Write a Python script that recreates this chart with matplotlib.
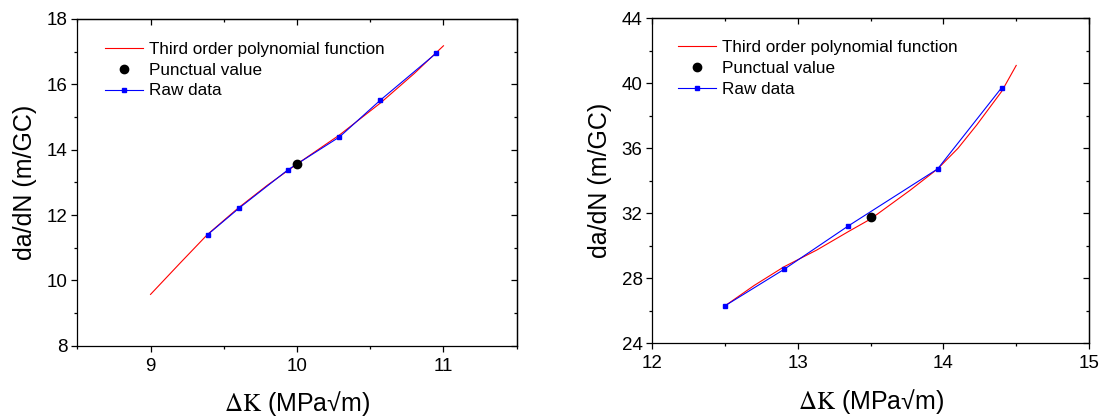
import matplotlib
matplotlib.use("Agg")
import matplotlib.pyplot as plt
from matplotlib.ticker import MultipleLocator

plt.rcParams['font.family'] = ['Liberation Sans', 'DejaVu Sans']
plt.rcParams['mathtext.fontset'] = 'stix'

# Linke Grafik: Rohdaten, Polynom 3. Ordnung und Punktwert
raw_dk_1 = [9.39, 9.607, 9.94, 10.29, 10.57, 10.95]
raw_dadn_1 = [11.40, 12.22, 13.39, 14.39, 15.52, 16.95]
poly_dk_1 = [9.0, 9.2, 9.39, 9.6, 9.8, 10.0, 10.29, 10.57, 10.8, 11.0]
poly_dadn_1 = [9.57, 10.52, 11.41, 12.22, 12.92, 13.56, 14.45, 15.43, 16.33, 17.18]
point_dk_1 = [10.0]
point_dadn_1 = [13.56]

# Rechte Grafik
raw_dk_2 = [12.5, 12.905, 13.346, 13.96, 14.40]
raw_dadn_2 = [26.31, 28.55, 31.22, 34.73, 39.73]
poly_dk_2 = [12.5, 12.7, 12.905, 13.13, 13.346, 13.5, 13.77, 13.96, 14.1, 14.23, 14.4, 14.5]
poly_dadn_2 = [26.31, 27.56, 28.71, 29.74, 30.87, 31.65, 33.41, 34.73, 36.0, 37.45, 39.5, 41.1]
point_dk_2 = [13.5]
point_dadn_2 = [31.77]

labels = ['Third order polynomial function', 'Punctual value', 'Raw data']

W, H = 1103, 419
fig = plt.figure(figsize=(W / 100, H / 100), dpi=100)


def add_panel(rect, poly_x, poly_y, pt_x, pt_y, raw_x, raw_y,
              xlim, ylim, xmaj, xmin, ymaj, ymin, leg_pos):
    ax = fig.add_axes(rect)
    ax.plot(poly_x, poly_y, color='red', lw=0.8, label=labels[0], zorder=2)
    ax.plot(pt_x, pt_y, 'o', color='black', ms=6, label=labels[1], zorder=4)
    ax.plot(raw_x, raw_y, '-s', color='blue', lw=0.8, ms=3.5, label=labels[2], zorder=3)
    ax.set_xlim(*xlim)
    ax.set_ylim(*ylim)
    ax.xaxis.set_major_locator(MultipleLocator(xmaj))
    ax.xaxis.set_minor_locator(MultipleLocator(xmin))
    ax.yaxis.set_major_locator(MultipleLocator(ymaj))
    ax.yaxis.set_minor_locator(MultipleLocator(ymin))
    ax.tick_params(which='both', direction='out', width=0.9, labelsize=13.5, pad=3)
    ax.tick_params(axis='x', which='both', pad=4.5)
    ax.tick_params(which='major', length=4)
    ax.tick_params(which='minor', length=2.2)
    for s in ax.spines.values():
        s.set_linewidth(0.9)

    # Ticks oben und rechts nach innen
    top = ax.secondary_xaxis('top')
    top.xaxis.set_major_locator(MultipleLocator(xmaj))
    top.xaxis.set_minor_locator(MultipleLocator(xmin))
    top.tick_params(which='both', direction='in', labeltop=False, width=0.9)
    top.tick_params(which='major', length=4)
    top.tick_params(which='minor', length=2.2)
    right = ax.secondary_yaxis('right')
    right.yaxis.set_major_locator(MultipleLocator(ymaj))
    right.yaxis.set_minor_locator(MultipleLocator(ymin))
    right.tick_params(which='both', direction='in', labelright=False, width=0.9)
    right.tick_params(which='major', length=4)
    right.tick_params(which='minor', length=2.2)
    for s in list(top.spines.values()) + list(right.spines.values()):
        s.set_linewidth(0.9)

    ax.set_xlabel(r'$\mathrm{\Delta K}$ (MPa√m)', fontsize=18, labelpad=10.5)
    ax.set_ylabel('da/dN (m/GC)', fontsize=18, labelpad=7)
    ax.legend(loc='upper left', bbox_to_anchor=leg_pos, frameon=False,
              fontsize=12.3, borderpad=0, borderaxespad=0, handlelength=2.2,
              handletextpad=0.35, labelspacing=0.34)
    return ax


add_panel([77.3 / W, 1 - 345.7 / H, 439.4 / W, 326.7 / H],
          poly_dk_1, poly_dadn_1, point_dk_1, point_dadn_1, raw_dk_1, raw_dadn_1,
          (8.5, 11.5), (8, 18), 1, 0.5, 2, 1, (0.063, 0.930))
add_panel([652.3 / W, 1 - 343.3 / H, 436.7 / W, 325 / H],
          poly_dk_2, poly_dadn_2, point_dk_2, point_dadn_2, raw_dk_2, raw_dadn_2,
          (12, 15), (24, 44), 1, 0.5, 4, 2, (0.059, 0.933))

fig.savefig('out.png', dpi=100)
